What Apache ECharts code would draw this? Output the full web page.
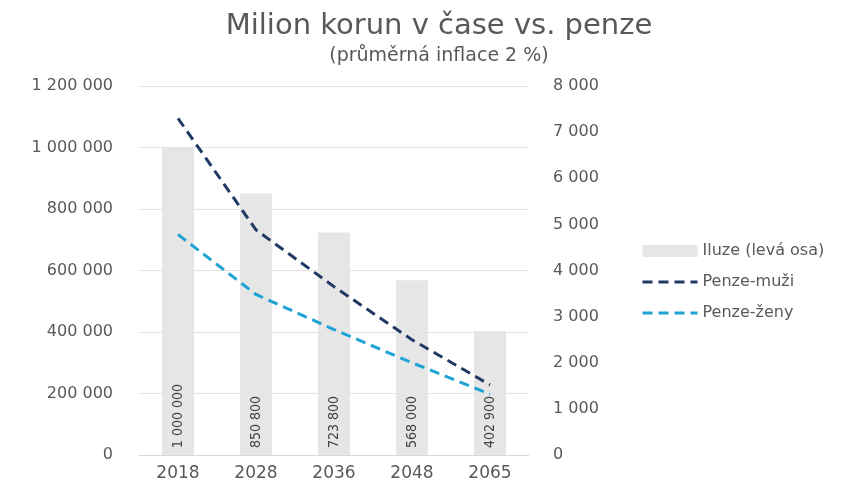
<!DOCTYPE html>
<html>
<head>
<meta charset="utf-8">
<script src="https://cdn.jsdelivr.net/npm/echarts@6/dist/echarts.min.js"></script>
<style>
  html, body { margin: 0; padding: 0; background: #fff; }
  #chart { width: 852px; height: 485px; }
</style>
</head>
<body>
<div id="chart"></div>
<script>
// data
const years = ["2018", "2028", "2036", "2048", "2065"];
const iluze = [1000000, 850800, 723800, 568000, 402900];
const penzeMuzi = [7300, 4880, 3650, 2500, 1520];
const penzeZeny = [4780, 3480, 2720, 2000, 1320];

function spaced(v) {
    return String(Math.round(v)).replace(/\B(?=(\d{3})+(?!\d))/g, " ");
}

const font = "'DejaVu Sans', 'Open Sans', sans-serif";
const grey = "#595959";
const dash = [10, 6];

let chart = echarts.init(document.getElementById("chart"));
chart.setOption({
    animation: false,
    textStyle: { fontFamily: font },
    title: {
        text: "Milion korun v čase vs. penze",
        subtext: "(průměrná inflace 2 %)",
        left: 434,
        textAlign: "center",
        top: 7,
        itemGap: 6,
        textStyle: { fontFamily: font, fontWeight: "normal", fontSize: 29, color: grey },
        subtextStyle: { fontFamily: font, fontSize: 19, color: grey }
    },
    legend: {
        orient: "vertical",
        left: 636,
        top: 238,
        itemGap: 15,
        itemWidth: 55,
        itemHeight: 12,
        textStyle: { fontFamily: font, fontSize: 16, color: grey },
        data: [
            { name: "Iluze (levá osa)", icon: "rect" },
            { name: "Penze-muži", itemStyle: { opacity: 0 }, lineStyle: { width: 3, type: dash } },
            { name: "Penze-ženy", itemStyle: { opacity: 0 }, lineStyle: { width: 3, type: dash } }
        ]
    },
    grid: { left: 139, right: 323, top: 86, bottom: 30 },
    xAxis: {
        type: "category",
        data: years,
        axisTick: { show: false },
        axisLine: { lineStyle: { color: "#d9d9d9" } },
        axisLabel: { fontSize: 17, color: grey, margin: 10 }
    },
    yAxis: [
        {
            type: "value",
            min: 0,
            max: 1200000,
            interval: 200000,
            axisLabel: { fontSize: 16, color: grey, margin: 26, formatter: spaced },
            splitLine: { lineStyle: { color: "#e3e3e3" } }
        },
        {
            type: "value",
            min: 0,
            max: 8000,
            interval: 1000,
            axisLabel: { fontSize: 16, color: grey, margin: 24, formatter: spaced },
            splitLine: { show: false }
        }
    ],
    series: [
        {
            name: "Iluze (levá osa)",
            type: "bar",
            data: iluze,
            barWidth: 32,
            itemStyle: { color: "#e6e6e6" },
            label: {
                show: true,
                position: "insideBottom",
                rotate: 90,
                align: "left",
                verticalAlign: "middle",
                distance: 7,
                fontFamily: "'Liberation Sans Narrow', 'DejaVu Sans Condensed', sans-serif",
                fontSize: 14,
                color: "#404040",
                formatter: p => spaced(p.value)
            }
        },
        {
            name: "Penze-muži",
            type: "line",
            yAxisIndex: 1,
            data: penzeMuzi,
            symbol: "none",
            itemStyle: { color: "#1f3864" },
            lineStyle: { color: "#1f3864", width: 3, type: dash }
        },
        {
            name: "Penze-ženy",
            type: "line",
            yAxisIndex: 1,
            data: penzeZeny,
            symbol: "none",
            itemStyle: { color: "#1ea3d4" },
            lineStyle: { color: "#1ea3d4", width: 3, type: dash }
        }
    ]
});
</script>
</body>
</html>
